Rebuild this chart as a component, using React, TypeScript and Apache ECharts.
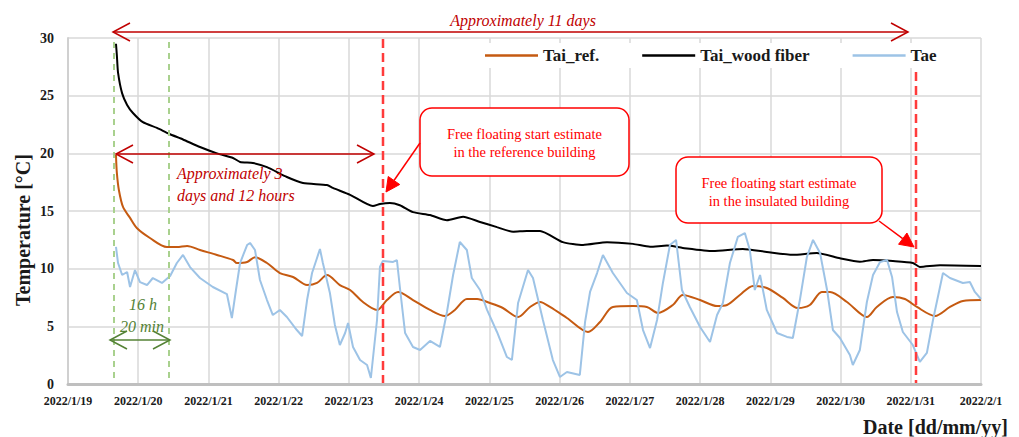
import React, { useEffect, useRef } from "react";
import * as echarts from "echarts";

// x axis: hours since 2022/1/19 00:00
const xTickLabels = [
  "2022/1/19", "2022/1/20", "2022/1/21", "2022/1/22", "2022/1/23", "2022/1/24", "2022/1/25",
  "2022/1/26", "2022/1/27", "2022/1/28", "2022/1/29", "2022/1/30", "2022/1/31", "2022/2/1",
];

const refHours = [
  16.4, 16.7, 17.4, 18.8, 21.2, 23.6, 28.0, 33.8, 37.2, 40.7,
  45.1, 50.9, 56.4, 57.7, 61.2, 63.9, 68.0, 72.4, 76.9, 81.7,
  85.1, 88.5, 92.9, 96.4, 100.8, 105.6, 109.0, 112.8, 117.9, 123.7,
  128.8, 132.2, 136.3, 139.8, 144.2, 148.6, 153.8, 157.9, 161.3, 164.7,
  170.5, 177.7, 181.8, 186.2, 193.1, 197.8, 201.6, 206.7, 210.1, 216.0,
  221.8, 225.2, 229.6, 234.1, 238.8, 244.3, 249.4, 253.5, 257.6, 260.4,
  266.2, 273.0, 276.4, 281.9, 286.0, 290.1, 296.3, 301.4, 305.8, 312.0,
];
const refValues = [
  19.86, 18.3, 16.8, 15.35, 14.4, 13.5, 12.66, 11.88, 11.88, 11.97,
  11.62, 11.19, 10.75, 10.49, 10.58, 11.0, 10.49, 9.62, 9.28, 8.58,
  8.76, 9.45, 8.58, 8.15, 7.11, 6.42, 7.28, 7.98, 7.28, 6.42,
  5.9, 6.42, 7.37, 7.37, 7.02, 6.59, 5.81, 6.68, 7.11, 6.68,
  5.72, 4.51, 5.38, 6.68, 6.76, 6.68, 6.16, 6.85, 7.72, 7.28,
  6.76, 6.85, 7.72, 8.5, 8.32, 7.46, 6.59, 6.85, 7.98, 7.98,
  7.11, 5.81, 6.68, 7.54, 7.37, 6.68, 5.9, 6.68, 7.2, 7.28,
];

const woodHours = [
  16.4, 16.7, 17.1, 18.5, 20.2, 22.2, 25.6, 30.4, 34.5, 39.3,
  45.1, 50.9, 56.4, 58.8, 63.2, 68.0, 74.8, 80.3, 88.5,
  90.5, 96.4, 104.2, 106.6, 110.0, 113.4, 117.9, 123.7, 129.5, 135.0,
  140.8, 146.6, 152.1, 156.8, 161.3, 169.1, 176.0, 184.2, 193.1, 198.9,
  204.7, 210.1, 220.4, 230.6, 238.8, 247.7, 255.9, 263.8, 270.6, 275.1,
  281.9, 288.7, 291.1, 298.0, 312.0,
];
const woodValues = [
  29.5, 28.5, 27.0, 25.2, 24.2, 23.5, 22.7, 22.2, 21.7, 21.2,
  20.55, 20.0, 19.6, 19.25, 19.16, 18.8, 17.95, 17.43, 17.25,
  17.0, 16.4, 15.43, 15.6, 15.7, 15.5, 14.9, 14.65, 14.2, 14.5,
  14.05, 13.6, 13.2, 13.27, 13.27, 12.3, 12.05, 12.3, 12.15, 11.9,
  12.0, 11.8, 11.53, 11.7, 11.45, 11.2, 11.36, 10.9, 10.6, 10.75,
  10.66, 10.5, 10.15, 10.3, 10.23,
];

const aeHours = [
  16.4, 17.1, 18.5, 20.2, 21.2, 22.9, 24.6, 27.0, 29.0, 32.1,
  34.9, 37.2, 39.3, 41.7, 45.1, 49.5, 54.3, 56.0, 57.4, 58.8,
  61.2, 62.2, 63.9, 65.6, 68.0, 70.0, 72.4, 74.8, 78.2, 80.0,
  81.7, 83.4, 85.1, 86.1, 87.1, 89.5, 91.2, 92.9, 94.7, 95.7,
  97.4, 99.8, 102.2, 103.5, 105.6, 106.6, 107.6, 111.1, 112.4, 113.4,
  115.2, 117.9, 120.3, 123.7, 127.1, 129.5, 131.6, 133.9, 136.3, 138.0,
  140.8, 143.2, 146.6, 150.0, 151.7, 153.8, 157.2, 158.9, 162.3, 165.7,
  168.1, 170.5, 174.9, 176.7, 178.4, 180.8, 182.8, 186.2, 191.0, 194.4,
  196.5, 198.9, 201.3, 203.3, 205.7, 207.8, 209.8, 212.5, 216.0, 219.4,
  221.8, 223.8, 226.2, 228.9, 231.3, 233.0, 234.7, 236.5, 238.8, 242.3,
  245.7, 247.7, 250.1, 252.5, 254.6, 257.0, 259.4, 261.4, 263.8, 267.2,
  268.2, 270.6, 273.0, 275.1, 277.5, 279.9, 281.6, 283.3, 285.3, 288.7,
  291.1, 293.5, 295.6, 299.0, 301.4, 305.8, 308.2, 309.9, 312.0,
];
const aeValues = [
  11.88, 10.49, 9.45, 9.71, 8.41, 9.88, 8.84, 8.58, 9.19, 8.76,
  9.36, 10.49, 11.19, 10.14, 9.19, 8.41, 7.8, 5.72, 8.15, 10.49,
  12.05, 12.23, 11.62, 9.02, 7.28, 5.98, 6.42, 5.81, 4.68, 4.16,
  7.28, 9.62, 10.93, 11.71, 10.49, 7.89, 5.12, 3.38, 4.42, 5.29,
  3.21, 2.08, 1.65, 0.52, 5.55, 10.14, 10.67, 10.58, 10.75, 8.41,
  4.42, 3.21, 2.95, 3.73, 3.21, 6.24, 9.45, 12.31, 11.62, 9.19,
  8.15, 6.42, 4.51, 2.34, 2.08, 7.02, 9.88, 9.19, 5.55, 2.08,
  0.61, 1.04, 0.78, 5.38, 7.98, 9.62, 11.19, 9.62, 7.89, 7.28,
  4.68, 3.12, 5.55, 8.76, 12.05, 12.49, 8.15, 6.68, 4.94, 3.64,
  5.98, 7.02, 10.49, 12.75, 13.09, 11.62, 8.15, 9.45, 6.42, 4.42,
  4.08, 3.99, 7.28, 11.01, 12.49, 11.36, 8.15, 4.68, 3.99, 2.51,
  1.65, 2.95, 7.11, 9.45, 10.58, 10.75, 9.28, 6.24, 4.51, 3.38,
  1.91, 2.69, 5.55, 9.62, 9.19, 8.76, 8.84, 7.98, 7.37,
];

const SERIF = '"Liberation Serif", "Times New Roman", serif';
const DARK_RED = "#c00000";
const RED = "#ff0000";
const DASH_RED = "#ff3b3b";
const GREEN = "#548235";
const LIGHT_GREEN = "#a9d18e";

function zip(h: number[], v: number[]) {
  return h.map((x, i) => [x, v[i]]);
}

function openHead(tipX: number, tipY: number, dir: number, color: string) {
  return {
    type: "polyline",
    z: 20,
    shape: { points: [[tipX + dir * 17, tipY - 9], [tipX, tipY], [tipX + dir * 17, tipY + 9]] },
    style: { stroke: color, lineWidth: 1.5, fill: "none" },
  };
}

function calloutArrow(x1: number, y1: number, x2: number, y2: number) {
  const dx = x2 - x1;
  const dy = y2 - y1;
  const len = Math.sqrt(dx * dx + dy * dy);
  const ux = dx / len;
  const uy = dy / len;
  const hl = 14;
  const hw = 7;
  const bx = x2 - ux * hl;
  const by = y2 - uy * hl;
  const nx = -uy;
  const ny = ux;
  return [
    { type: "line", z: 20, shape: { x1, y1, x2: bx, y2: by }, style: { stroke: RED, lineWidth: 1.5 } },
    {
      type: "polygon",
      z: 20,
      shape: { points: [[x2, y2], [bx + nx * hw, by + ny * hw], [bx - nx * hw, by - ny * hw]] },
      style: { fill: RED, stroke: RED, lineWidth: 1 },
    },
  ];
}

function callout(x: number, y: number, w: number, h: number, lines: string[]) {
  const cx = x + w / 2;
  return [
    {
      type: "rect",
      z: 19,
      shape: { x, y, width: w, height: h, r: 12 },
      style: { fill: "#ffffff", stroke: RED, lineWidth: 1.5 },
    },
    ...lines.map((t, i) => ({
      type: "text",
      z: 21,
      x: cx,
      y: y + 26 + i * 18,
      style: {
        text: t,
        fill: RED,
        font: `14.5px ${SERIF}`,
        align: "center",
        verticalAlign: "middle",
      },
    })),
  ];
}

function label(text: string, x: number, y: number, color: string, align = "left", size = 16) {
  return {
    type: "text",
    z: 21,
    x,
    y,
    style: { text, fill: color, font: `italic ${size}px ${SERIF}`, align, verticalAlign: "middle" },
  };
}

export default function App() {
  const ref = useRef<HTMLDivElement>(null);

  useEffect(() => {
    if (!ref.current) return;
    const chart = echarts.init(ref.current, null, { renderer: "svg" });

    const graphic: any[] = [
      // vertical markers
      { type: "line", z: 15, shape: { x1: 114, y1: 42, x2: 114, y2: 383 }, style: { stroke: LIGHT_GREEN, lineWidth: 2, lineDash: [6, 5] } },
      { type: "line", z: 15, shape: { x1: 169, y1: 42, x2: 169, y2: 383 }, style: { stroke: LIGHT_GREEN, lineWidth: 2, lineDash: [6, 5] } },
      { type: "line", z: 15, shape: { x1: 383, y1: 39, x2: 383, y2: 383 }, style: { stroke: DASH_RED, lineWidth: 2.5, lineDash: [9, 5] } },
      { type: "line", z: 15, shape: { x1: 916, y1: 72, x2: 916, y2: 383 }, style: { stroke: DASH_RED, lineWidth: 2.5, lineDash: [9, 5] } },

      // 11 days arrow
      { type: "line", z: 20, shape: { x1: 113, y1: 32, x2: 908, y2: 32 }, style: { stroke: DARK_RED, lineWidth: 1.5 } },
      openHead(113, 32, 1, DARK_RED),
      openHead(908, 32, -1, DARK_RED),
      label("Approximately 11 days", 523, 20, DARK_RED, "center"),

      // 3 days 12 hours arrow
      { type: "line", z: 20, shape: { x1: 116, y1: 154, x2: 374, y2: 154 }, style: { stroke: DARK_RED, lineWidth: 1.5 } },
      openHead(116, 154, 1, DARK_RED),
      openHead(374, 154, -1, DARK_RED),
      label("Approximately 3", 177, 173, DARK_RED),
      label("days and 12 hours", 177, 195, DARK_RED),

      // 16 h 20 min arrow
      { type: "line", z: 20, shape: { x1: 110, y1: 340, x2: 170, y2: 340 }, style: { stroke: GREEN, lineWidth: 1.5 } },
      openHead(110, 340, 1, GREEN),
      openHead(170, 340, -1, GREEN),
      label("16 h", 143, 304, GREEN, "center"),
      label("20 min", 142, 326, GREEN, "center"),

      // callouts
      ...callout(420, 108, 209, 68, ["Free floating start estimate", "in the reference building"]),
      ...calloutArrow(420, 143, 386, 192),
      ...callout(676, 157, 206, 66, ["Free floating start estimate", "in the insulated building"]),
      ...calloutArrow(879, 221, 914, 247),

      // axis titles
      {
        type: "text",
        z: 21,
        x: 23,
        y: 230,
        rotation: Math.PI / 2,
        style: {
          text: "Temperature [°C]",
          fill: "#1a1a1a",
          font: `bold 20px ${SERIF}`,
          align: "center",
          verticalAlign: "middle",
        },
      },
      {
        type: "text",
        z: 21,
        x: 1008,
        y: 427,
        style: {
          text: "Date [dd/mm/yy]",
          fill: "#1a1a1a",
          font: `bold 20px ${SERIF}`,
          align: "right",
          verticalAlign: "middle",
        },
      },
    ];

    chart.setOption({
      animation: false,
      backgroundColor: "#ffffff",
      grid: { left: 68, right: 38, top: 38, bottom: 53, containLabel: false },
      legend: {
        left: 475,
        top: 43,
        padding: [4, 10, 4, 10],
        backgroundColor: "#ffffff",
        icon: "rect",
        itemWidth: 53,
        itemHeight: 2.5,
        itemGap: 43,
        textStyle: { fontFamily: SERIF, fontWeight: "bold", fontSize: 17, color: "#1a1a1a" },
        data: ["Tai_ref.", "Tai_wood fiber", "Tae"],
        z: 10,
      },
      xAxis: {
        type: "value",
        min: 0,
        max: 312,
        interval: 24,
        axisLine: { show: true, lineStyle: { color: "#bfbfbf", width: 3 } },
        axisTick: { show: false },
        splitLine: { show: true, lineStyle: { color: "#d9d9d9", width: 1.5 } },
        axisLabel: {
          margin: 11,
          fontFamily: SERIF,
          fontWeight: "bold",
          fontSize: 12,
          color: "#1a1a1a",
          formatter: (v: number) => xTickLabels[Math.round(v / 24)] ?? "",
        },
      },
      yAxis: {
        type: "value",
        min: 0,
        max: 30,
        interval: 5,
        axisLine: { show: true, lineStyle: { color: "#d0d0d0", width: 2 } },
        axisTick: { show: false },
        splitLine: { show: true, lineStyle: { color: "#d9d9d9", width: 1.5 } },
        axisLabel: {
          margin: 14,
          fontFamily: SERIF,
          fontWeight: "bold",
          fontSize: 14,
          color: "#1a1a1a",
        },
      },
      series: [
        {
          name: "Tai_ref.",
          type: "line",
          data: zip(refHours, refValues),
          showSymbol: false,
          smooth: 0.3,
          color: "#c55a11",
          lineStyle: { color: "#c55a11", width: 2 },
          z: 3,
        },
        {
          name: "Tai_wood fiber",
          type: "line",
          data: zip(woodHours, woodValues),
          showSymbol: false,
          smooth: 0.2,
          color: "#000000",
          lineStyle: { color: "#000000", width: 2 },
          z: 3,
        },
        {
          name: "Tae",
          type: "line",
          data: zip(aeHours, aeValues),
          showSymbol: false,
          color: "#9dc3e6",
          lineStyle: { color: "#9dc3e6", width: 2 },
          z: 4,
        },
      ],
      graphic,
    });

    return () => chart.dispose();
  }, []);

  return (
    <div
      ref={ref}
      style={{ position: "fixed", left: 0, top: 0, width: 1019, height: 437, background: "#ffffff" }}
    />
  );
}
